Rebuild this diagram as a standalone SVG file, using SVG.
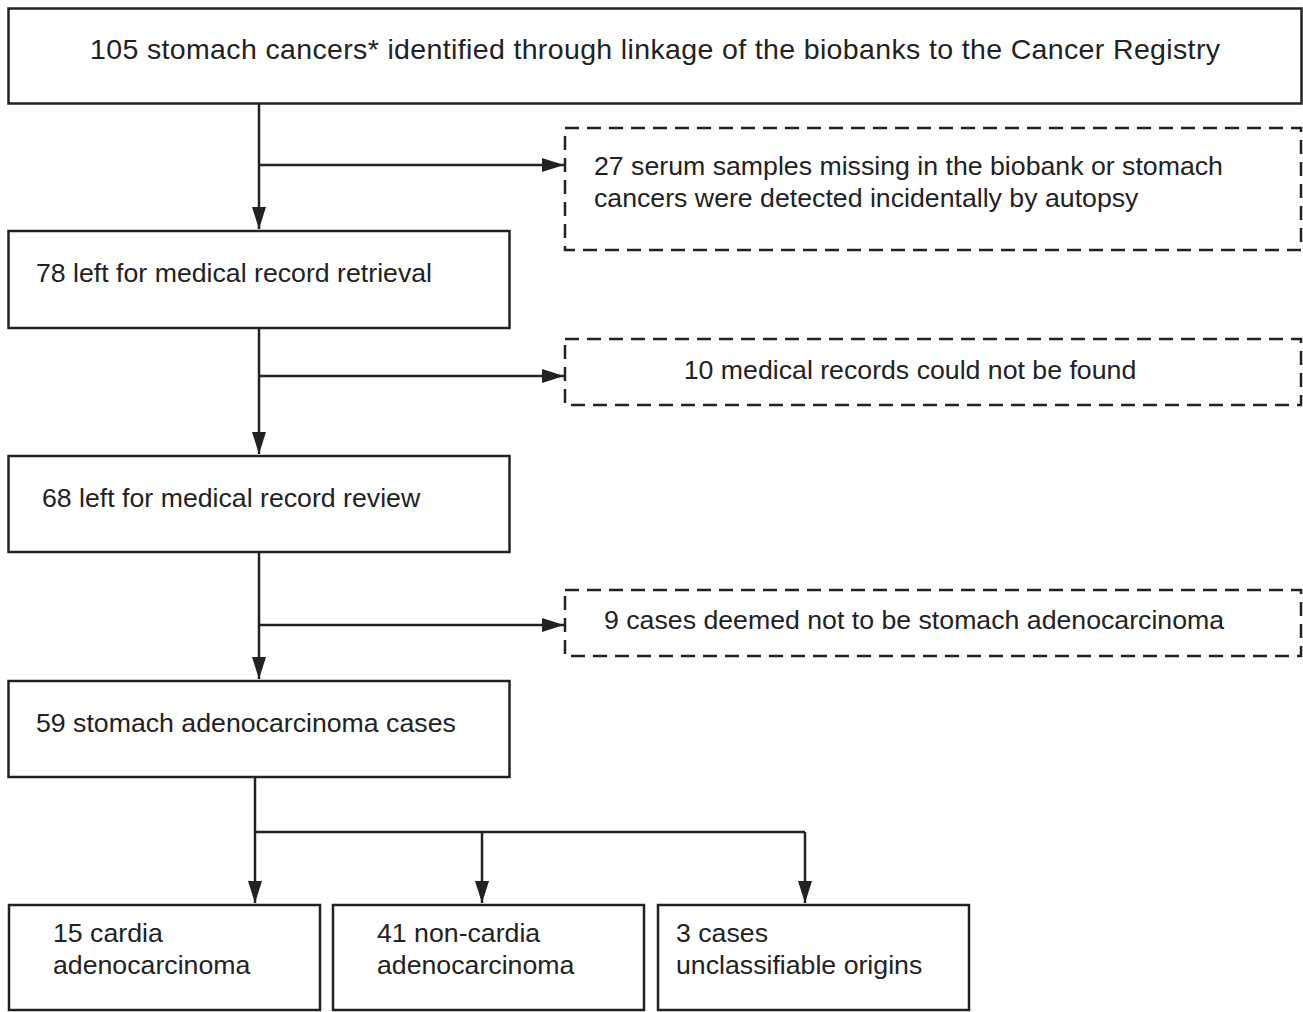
<svg xmlns="http://www.w3.org/2000/svg" width="1303" height="1012" viewBox="0 0 1303 1012">
<defs>
<style>
.box{fill:#fff;stroke:#222;stroke-width:2.5}
.dash{fill:#fff;stroke:#222;stroke-width:2.5;stroke-dasharray:14 8}
.t{font-family:"Liberation Sans",Arial,sans-serif;font-size:26.7px;fill:#222}
.big{font-size:28.5px}
.ln{fill:none;stroke:#222;stroke-width:2.5}
</style>
<marker id="a" viewBox="0 0 22 14" refX="22" refY="7" markerWidth="22" markerHeight="14" markerUnits="userSpaceOnUse" orient="auto">
<path d="M0,0 L22,7 L0,14 z" fill="#222"/>
</marker>
</defs>
<rect width="1303" height="1012" fill="#fff"/>
<g id="connectors">
<path class="ln" d="M259,103 V229" marker-end="url(#a)"/>
<path class="ln" d="M259,165 H564" marker-end="url(#a)"/>
<path class="ln" d="M259,328 V454" marker-end="url(#a)"/>
<path class="ln" d="M259,376 H564" marker-end="url(#a)"/>
<path class="ln" d="M259,552 V679" marker-end="url(#a)"/>
<path class="ln" d="M259,625 H564" marker-end="url(#a)"/>
<path class="ln" d="M255,777 V903" marker-end="url(#a)"/>
<path class="ln" d="M255,832 H805"/>
<path class="ln" d="M482,832 V903" marker-end="url(#a)"/>
<path class="ln" d="M805,832 V903" marker-end="url(#a)"/>
</g>
<g id="n1"><rect class="box" x="8.5" y="8.5" width="1293" height="95"/>
<text class="t big" x="90" y="59" textLength="1130" lengthAdjust="spacing">105 stomach cancers* identified through linkage of the biobanks to the Cancer Registry</text></g>
<g id="x1"><rect class="dash" x="565" y="128" width="736" height="122"/>
<text class="t" x="594" y="175">27 serum samples missing in the biobank or stomach</text>
<text class="t" x="594" y="207">cancers were detected incidentally by autopsy</text></g>
<g id="n2"><rect class="box" x="8.5" y="231" width="501" height="97"/>
<text class="t" x="36" y="282">78 left for medical record retrieval</text></g>
<g id="x2"><rect class="dash" x="565" y="339" width="736" height="66"/>
<text class="t" x="910" y="379" text-anchor="middle">10 medical records could not be found</text></g>
<g id="n3"><rect class="box" x="8.5" y="456" width="501" height="96"/>
<text class="t" x="42" y="507">68 left for medical record review</text></g>
<g id="x3"><rect class="dash" x="565" y="590" width="736" height="66"/>
<text class="t" x="604" y="629">9 cases deemed not to be stomach adenocarcinoma</text></g>
<g id="n4"><rect class="box" x="8.5" y="681" width="501" height="96"/>
<text class="t" x="36" y="732">59 stomach adenocarcinoma cases</text></g>
<g id="n5"><rect class="box" x="9" y="905" width="311" height="105"/>
<text class="t" x="53" y="942">15 cardia</text><text class="t" x="53" y="974">adenocarcinoma</text></g>
<g id="n6"><rect class="box" x="333" y="905" width="311" height="105"/>
<text class="t" x="377" y="942">41 non-cardia</text><text class="t" x="377" y="974">adenocarcinoma</text></g>
<g id="n7"><rect class="box" x="658" y="905" width="311" height="105"/>
<text class="t" x="676" y="942">3 cases</text><text class="t" x="676" y="974">unclassifiable origins</text></g>
</svg>
